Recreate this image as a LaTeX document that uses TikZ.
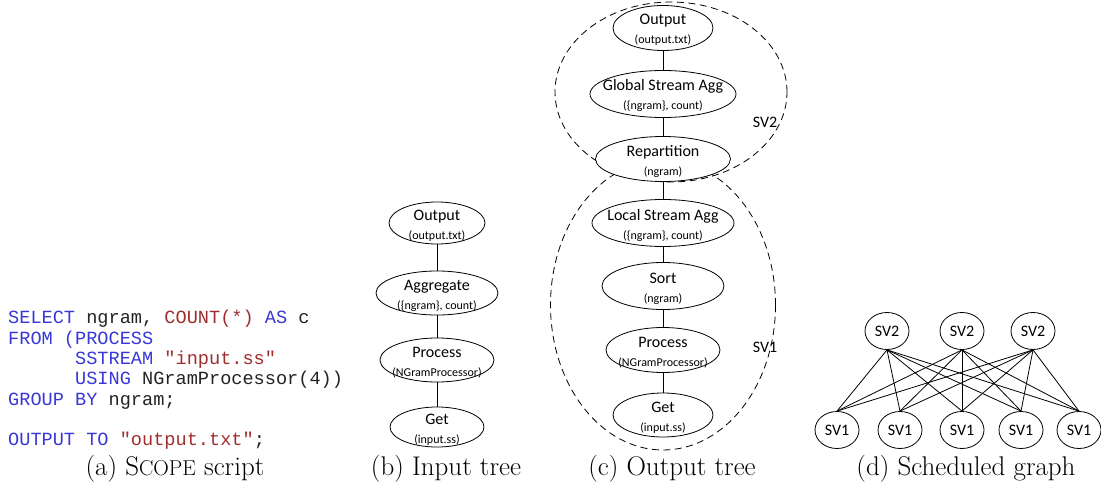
\documentclass[tikz,border=0pt]{standalone}
\usepackage{fontspec}
\newfontfamily\calfont{Carlito}
\newfontfamily\codefont{Liberation Mono}
\usetikzlibrary{shapes.geometric,calc}
\definecolor{kw}{RGB}{56,56,215}
\definecolor{st}{RGB}{160,45,45}
\definecolor{idc}{RGB}{35,35,35}
\newcommand\treenode[7]{%
  \node[tell, minimum width=#4pt, minimum height=#5pt] (#1) at (#2,#3) {};
  \node[mainlbl] (#1m) at ($(#1.center)+(0,-3)$) {#6};
  \node[sublbl] (#1s) at ($(#1.center)+(0,16)$) {#7};
}
\begin{document}
\begin{tikzpicture}[x=1pt,y=-1pt,
  tell/.style={ellipse, draw, fill=white, line width=0.8pt, inner sep=0pt},
  mainlbl/.style={font=\calfont\fontsize{16}{19}\selectfont, inner sep=0pt, anchor=base},
  sublbl/.style={font=\calfont\fontsize{12}{14}\selectfont, inner sep=0pt, anchor=base},
  conn/.style={line width=0.8pt},
  grp/.style={ellipse, draw, dash pattern=on 7pt off 4.5pt, line width=0.8pt, inner sep=0pt},
  svnode/.style={ellipse, draw, fill=white, line width=0.8pt, inner sep=0pt, minimum width=44pt, minimum height=37pt, font=\calfont\fontsize{16}{19}\selectfont},
  codeline/.style={font=\codefont\fontsize{18.6}{20}\selectfont, anchor=base west, inner sep=0pt},
  captext/.style={font=\fontsize{27}{30}\selectfont, anchor=base, inner sep=0pt}]
\useasboundingbox (0,0) rectangle (1101,487);

% (a) code
\node[codeline] (l1) at (8,323) {\color{kw}SELECT \color{idc}ngram, \color{st}COUNT(*) \color{kw}AS \color{idc}c};
\node[codeline] (l2) at (8,344) {\color{kw}FROM (PROCESS};
\node[codeline] (l3) at (8,364) {\hphantom{SSSSSS}\color{kw}SSTREAM \color{st}"input.ss"};
\node[codeline] (l4) at (8,384) {\hphantom{SSSSSS}\color{kw}USING \color{idc}NGramProcessor(4))};
\node[codeline] (l5) at (8,405) {\color{kw}GROUP BY \color{idc}ngram;};
\node[codeline] (l6) at (8,445) {\color{kw}OUTPUT TO \color{st}"output.txt"\color{idc};};

% (b) input tree
\treenode{bo}{437}{223}{96}{42}{Output}{(output.txt)}
\treenode{ba}{437}{293}{122}{44}{Aggregate}{(\{ngram\}, count)}
\treenode{bp}{437}{360}{114}{44}{Process}{(NGramProcessor)}
\treenode{bg}{437}{427}{94}{40}{Get}{(input.ss)}
\draw[conn] (bo.south) -- (ba.north);
\draw[conn] (ba.south) -- (bp.north);
\draw[conn] (bp.south) -- (bg.north);

% (c) output tree
\node[grp, minimum width=232pt, minimum height=180pt] (sv2) at (671,92) {};
\node[grp, minimum width=225pt, minimum height=290pt] (sv1) at (663,305) {};
\treenode{co}{663}{28}{100}{45}{Output}{(output.txt)}
\treenode{cg}{663}{94}{146}{47}{Global Stream Agg}{(\{ngram\}, count)}
\treenode{cr}{663}{159}{135}{45}{Repartition}{(ngram)}
\treenode{cl}{663}{223}{142}{47}{Local Stream Agg}{(\{ngram\}, count)}
\treenode{cs}{663}{286}{122}{47}{Sort}{(ngram)}
\treenode{cp}{663}{350}{114}{45}{Process}{(NGramProcessor)}
\treenode{cget}{663}{415}{100}{44}{Get}{(input.ss)}
\draw[conn] (co.south) -- (cg.north);
\draw[conn] (cg.south) -- (cr.north);
\draw[conn] (cr.south) -- (cl.north);
\draw[conn] (cl.south) -- (cs.north);
\draw[conn] (cs.south) -- (cp.north);
\draw[conn] (cp.south) -- (cget.north);
\node[mainlbl] (sv2l) at (765,128) {SV2};
\node[mainlbl] (sv1l) at (765,352) {SV1};

% (d) scheduled graph
\node[svnode] (t1) at (887,331) {SV2};
\node[svnode] (t2) at (962,331) {SV2};
\node[svnode] (t3) at (1033,331) {SV2};
\node[svnode] (b1) at (837,430) {SV1};
\node[svnode] (b2) at (900,430) {SV1};
\node[svnode] (b3) at (962,430) {SV1};
\node[svnode] (b4) at (1021,430) {SV1};
\node[svnode] (b5) at (1079,430) {SV1};
\foreach \t in {t1,t2,t3}{
  \foreach \b in {b1,b2,b3,b4,b5}{
    \draw[conn] (\t.south) -- (\b.north);
  }
}

% captions
\node[captext] (ca) at (175,475) {(a) S{\fontsize{21.5}{24}\selectfont COPE} script};
\node[captext] (cb) at (446,475) {(b) Input tree};
\node[captext] (cc) at (672,475) {(c) Output tree};
\node[captext] (cd) at (966,475) {(d) Scheduled graph};
\end{tikzpicture}
\end{document}
